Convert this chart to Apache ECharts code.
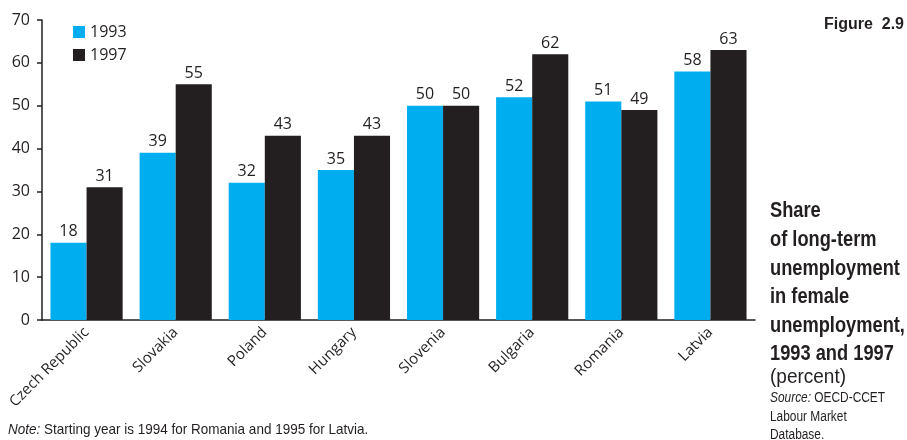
<!DOCTYPE html>
<html>
<head>
<meta charset="utf-8">
<script src="https://cdn.jsdelivr.net/npm/echarts@6/dist/echarts.min.js"></script>
<style>
  html, body { margin: 0; padding: 0; background: #fff; }
  #chart { width: 907px; height: 440px; }
</style>
</head>
<body>
<div id="chart"></div>
<script>
// Share of long-term unemployment in female unemployment (percent)
const countries = ['Czech Republic', 'Slovakia', 'Poland', 'Hungary', 'Slovenia', 'Bulgaria', 'Romania', 'Latvia'];
const share1993 = [18, 39, 32, 35, 50, 52, 51, 58];
const share1997 = [31, 55, 43, 43, 50, 62, 49, 63];
const seriesNames = ['1993', '1997'];
const yTicks = [0, 10, 20, 30, 40, 50, 60, 70];

const INK = '#231F20';
const BLUE = '#00AEEF';
const FONT = 'Open Sans';
const SIDE = '"Liberation Sans", Arial, sans-serif';

const chart = echarts.init(document.getElementById('chart'), null, { renderer: 'canvas' });

const labelStyle = {
  show: true,
  position: 'top',
  distance: 3,
  color: INK,
  fontFamily: FONT,
  fontSize: 16
};

chart.setOption({
  animation: false,
  grid: { left: 42, right: 152, top: 20, bottom: 120, containLabel: false },
  legend: {
    orient: 'vertical',
    left: 68,
    top: 19,
    itemWidth: 12,
    itemHeight: 12,
    itemGap: 7,
    icon: 'rect',
    data: seriesNames,
    textStyle: { color: INK, fontFamily: FONT, fontSize: 16 }
  },
  xAxis: {
    type: 'category',
    data: countries,
    axisLine: { show: true, lineStyle: { color: INK, width: 1.5 } },
    axisTick: { show: false },
    axisLabel: {
      rotate: 45,
      margin: 10,
      interval: 0,
      color: INK,
      fontFamily: FONT,
      fontSize: 15
    }
  },
  yAxis: {
    type: 'value',
    min: yTicks[0],
    max: yTicks[yTicks.length - 1],
    interval: 10,
    splitLine: { show: false },
    axisLine: { show: true, lineStyle: { color: INK, width: 1.5 } },
    axisTick: { show: true, length: 5, lineStyle: { color: INK, width: 1.5 } },
    axisLabel: {
      margin: 12,
      color: INK,
      fontFamily: FONT,
      fontSize: 16
    }
  },
  series: [
    {
      name: seriesNames[0],
      type: 'bar',
      data: share1993,
      barGap: '0%',
      barCategoryGap: '19%',
      itemStyle: { color: BLUE },
      label: labelStyle
    },
    {
      name: seriesNames[1],
      type: 'bar',
      data: share1997,
      itemStyle: { color: INK },
      label: labelStyle
    }
  ],
  graphic: [
    {
      type: 'text',
      right: 3,
      top: 17,
      style: {
        text: 'Figure  2.9',
        fill: INK,
        font: 'bold 16px ' + SIDE
      }
    },
    {
      type: 'text',
      x: 770,
      y: 197,
      scaleX: 0.83,
      style: {
        text: 'Share\nof long-term\nunemployment\nin female\nunemployment,\n1993 and 1997',
        fill: INK,
        font: 'bold 22px ' + SIDE,
        lineHeight: 28.6
      }
    },
    {
      type: 'text',
      x: 770,
      y: 367,
      scaleX: 0.95,
      style: {
        text: '(percent)',
        fill: INK,
        font: '20px ' + SIDE
      }
    },
    {
      type: 'text',
      x: 770,
      y: 389,
      scaleX: 0.85,
      style: {
        text: '{i|Source:} OECD-CCET\nLabour Market\nDatabase.',
        fill: INK,
        font: '14px ' + SIDE,
        lineHeight: 18.5,
        rich: {
          i: { fontStyle: 'italic', fontFamily: SIDE, fontSize: 14, fill: INK }
        }
      }
    },
    {
      type: 'text',
      x: 8,
      y: 422,
      scaleX: 0.9,
      style: {
        text: '{i|Note:} Starting year is 1994 for Romania and 1995 for Latvia.',
        fill: INK,
        font: '15px ' + SIDE,
        rich: {
          i: { fontStyle: 'italic', fontFamily: SIDE, fontSize: 15, fill: INK }
        }
      }
    }
  ]
});
</script>
</body>
</html>
